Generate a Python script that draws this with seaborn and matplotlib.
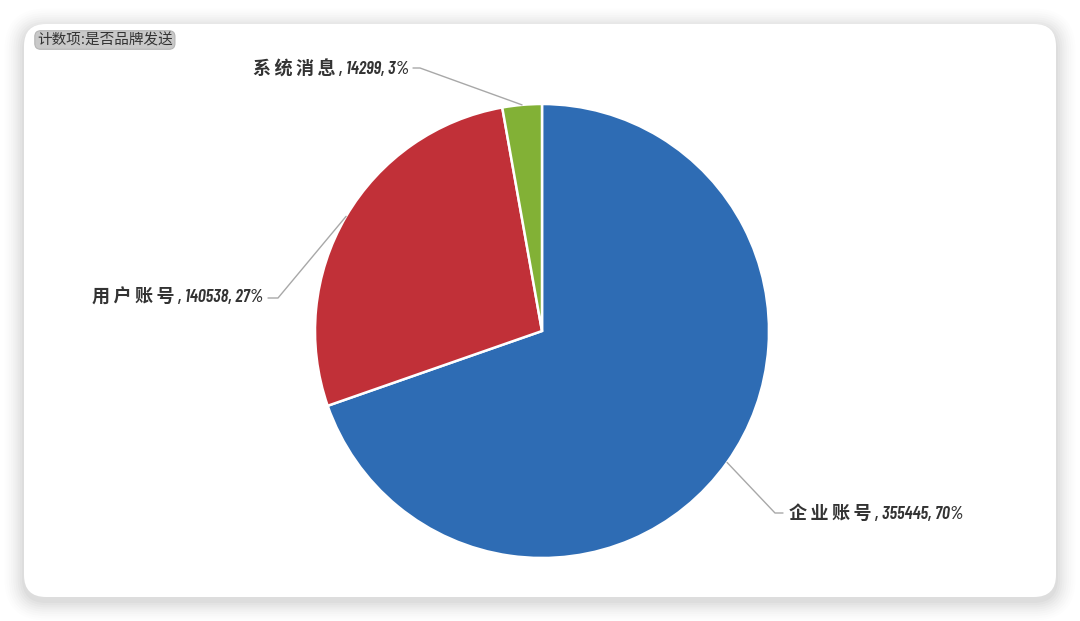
import numpy as np
import matplotlib
matplotlib.use("Agg")
import matplotlib.pyplot as plt
from matplotlib.patches import FancyBboxPatch
import seaborn as sns

# data
categories = ["企业账号", "用户账号", "系统消息"]
counts = [355445, 140538, 14299]
pct_labels = [70, 27, 3]
colors = ["#2E6CB4", "#C13038", "#82B136"]
title = "计数项:是否品牌发送"

W, H = 1080, 621
sns.set_theme(style="white")
plt.rcParams["font.family"] = ["Barlow Condensed", "Noto Sans CJK SC", "DejaVu Sans"]

fig = plt.figure(figsize=(W / 100, H / 100), dpi=100)
fig.patch.set_facecolor("white")
ax = fig.add_axes([0, 0, 1, 1])

def Y(y):  # image y -> axis y
    return H - y

# card with soft shadow
for i, a in enumerate(np.linspace(0.022, 0.006, 9)):
    s = 2 + i * 2.2
    ax.add_patch(FancyBboxPatch((24 - s, Y(597) - s - 4), 1032 + 2 * s, 573 + 2 * s,
                                boxstyle=f"round,pad=0,rounding_size={22 + s}", fc="black", ec="none",
                                alpha=a, zorder=0))
ax.add_patch(FancyBboxPatch((24, Y(597)), 1032, 573, boxstyle="round,pad=0,rounding_size=22",
                            fc="white", ec="none", zorder=1))

cx, cy, r = 542, Y(331), 227
wedges, _ = ax.pie(counts, colors=colors, startangle=90, counterclock=False, radius=r, center=(cx, cy),
                   wedgeprops=dict(edgecolor="white", linewidth=1.8, zorder=2), frame=True)
ax.set_xlim(0, W); ax.set_ylim(0, H); ax.set_aspect("equal"); ax.axis("off")

# leader line layout: elbow point, line end, text anchor (image coords)
layout = [((775, 513), (783, 513), (789, 514), "left"),
          ((278, 298), (268, 298), (263, 298), "right"),
          ((420, 68), (413, 68), (409, 69), "right")]
for w, name, n, p, (elb, end, tx, ha) in zip(wedges, categories, counts, pct_labels, layout):
    ang = np.deg2rad((w.theta1 + w.theta2) / 2)
    ex, ey = cx + r * np.cos(ang), cy + r * np.sin(ang)
    ax.plot([ex, elb[0], end[0]], [ey, Y(elb[1]), Y(end[1])], color="#a8a8a8", lw=1, zorder=3)
    ax.text(tx[0], Y(tx[1]), f"{' '.join(name)} , {n}, {p}%", ha=ha, va="center", fontsize=13,
            style="italic", weight="semibold", color="#333333", zorder=4)

ax.text(37, Y(40), title, ha="left", va="center", fontsize=10.5, color="#333333",
        family=["Noto Sans CJK SC", "DejaVu Sans"], zorder=4,
        bbox=dict(boxstyle="round,pad=0.15,rounding_size=0.4", fc="#c9c9c9", ec="#b5b5b5", lw=0.8))

fig.savefig("out.png", dpi=100)
